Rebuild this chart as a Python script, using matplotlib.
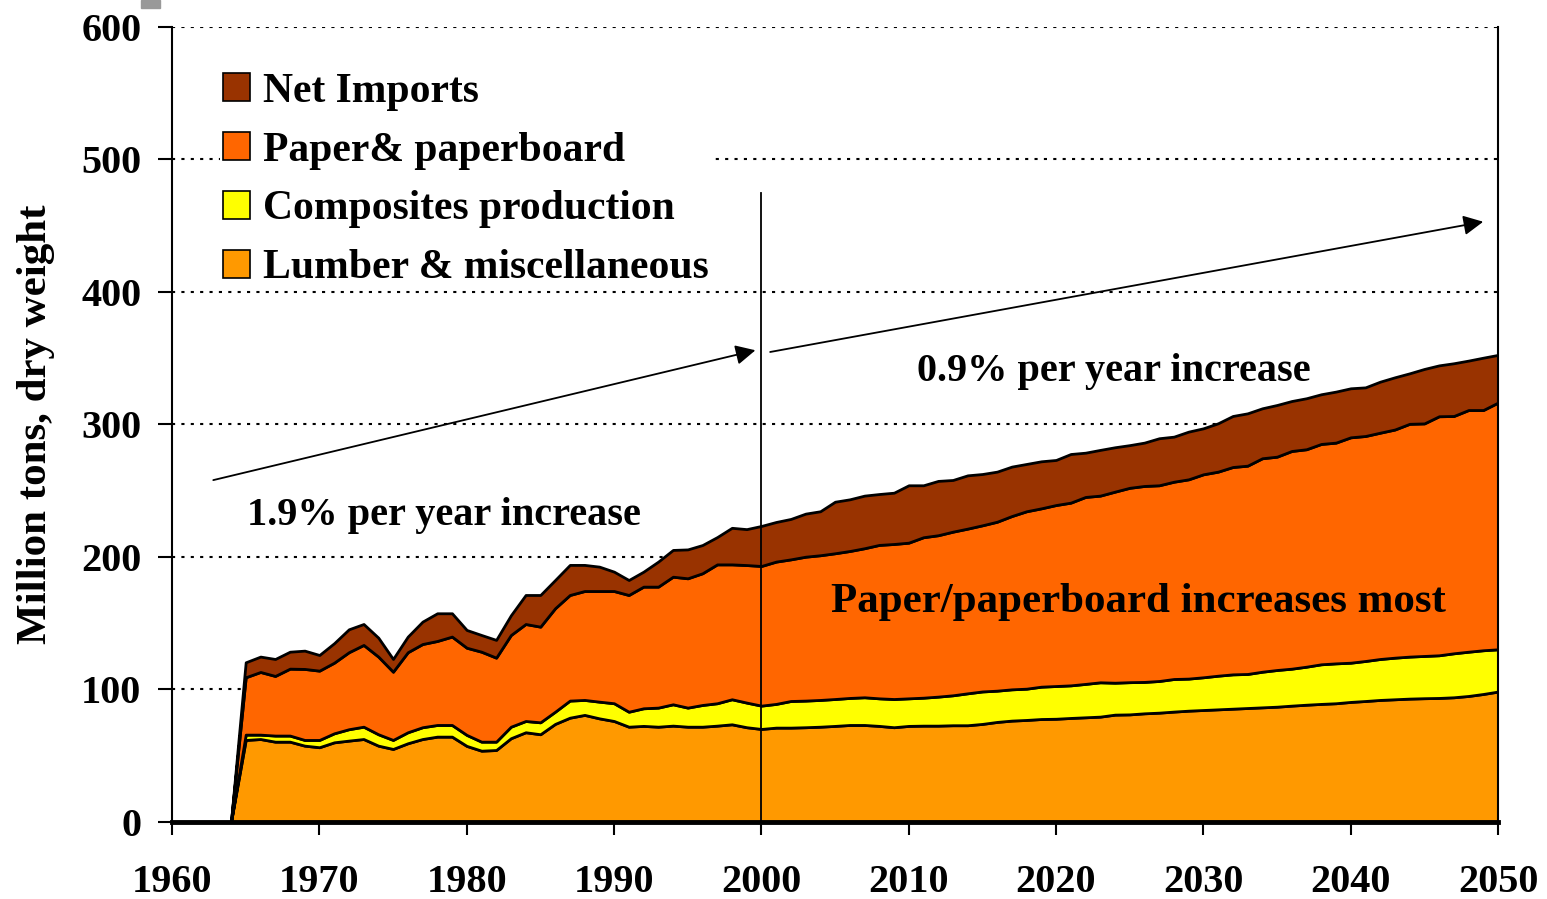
import matplotlib.pyplot as plt
from matplotlib.patches import Rectangle

# Years 1960-2050, series are zero until 1964
years = list(range(1960, 2051))

lumber = [0, 0, 0, 0, 0,
          61.9, 62.6, 60.6, 60.6, 57.6, 56.4, 60.1, 61.4, 62.6, 57.6,
          55.1, 59.4, 62.6, 64.4, 64.4, 57.4, 53.8, 54.3, 63.2, 67.7,
          66.2, 74.0, 78.7, 80.8, 78.2, 76.2, 71.9, 72.5, 71.9, 72.7,
          71.9, 71.9, 72.7, 73.7, 71.5, 70.2, 71.2, 71.2, 71.5, 71.9,
          72.5, 73.2, 73.2, 72.5, 71.5, 72.5, 72.7, 72.7, 73.0, 73.0,
          74.0, 75.5, 76.5, 77.0, 77.7, 77.9, 78.5, 79.0, 79.5, 81.0,
          81.2, 82.0, 82.5, 83.3, 84.0, 84.5, 85.0, 85.5, 86.0, 86.5,
          87.0, 87.8, 88.5, 89.1, 89.6, 90.6, 91.3, 92.1, 92.6, 93.1,
          93.4, 93.6, 94.1, 95.1, 96.6, 98.4]

composites = [0, 0, 0, 0, 0,
              4.0, 3.3, 4.6, 4.6, 4.3, 5.5, 6.8, 8.6, 9.3, 8.6,
              6.8, 8.3, 8.9, 8.8, 8.8, 8.3, 6.8, 6.3, 8.7, 8.5,
              9.0, 9.2, 12.9, 11.3, 12.6, 13.4, 11.3, 13.3, 14.4, 16.1,
              14.4, 16.4, 16.9, 18.9, 18.6, 17.6, 17.9, 20.1, 20.1, 20.2,
              20.3, 20.4, 20.9, 20.8, 21.3, 20.8, 21.1, 21.9, 22.6, 24.1,
              24.5, 23.6, 23.6, 23.6, 24.4, 24.7, 24.6, 25.2, 25.9, 24.1,
              24.3, 23.7, 23.9, 24.6, 24.2, 24.7, 25.4, 25.9, 25.7, 26.9,
              27.7, 27.9, 28.7, 29.9, 30.1, 29.6, 30.2, 30.9, 31.4, 31.7,
              31.9, 32.2, 33.2, 33.4, 33.0, 31.9]

paper = [0, 0, 0, 0, 0,
         43.3, 47.3, 45.0, 50.5, 53.6, 52.3, 53.3, 58.1, 61.7, 58.6,
         51.5, 60.4, 62.8, 63.4, 66.7, 65.8, 67.9, 63.4, 69.2, 73.2,
         72.2, 78.1, 79.7, 82.2, 83.5, 84.7, 88.1, 91.8, 91.3, 96.3,
         97.6, 99.4, 104.8, 101.8, 103.8, 105.4, 107.4, 106.9, 108.6, 109.2,
         110.0, 110.9, 112.5, 115.8, 117.0, 117.5, 121.1, 121.8, 123.5, 124.3,
         125.4, 127.5, 130.8, 133.9, 134.6, 136.6, 137.9, 141.1, 140.9, 144.2,
         146.7, 147.9, 147.7, 148.9, 150.4, 153.2, 154.0, 156.5, 157.2, 161.1,
         161.0, 164.3, 164.1, 166.3, 166.6, 170.1, 169.8, 170.8, 172.2, 175.7,
         175.5, 180.4, 179.1, 182.4, 181.3, 186.2]

imports = [0, 0, 0, 0, 0,
           11.3, 11.6, 12.8, 12.8, 13.8, 11.8, 14.7, 17.3, 15.8, 14.3,
           9.6, 11.8, 16.9, 20.9, 17.6, 13.4, 12.6, 13.4, 14.9, 21.9,
           23.9, 21.3, 22.7, 19.7, 18.4, 14.6, 11.3, 11.3, 18.9, 20.2,
           21.8, 21.3, 20.6, 27.6, 27.1, 30.2, 29.9, 30.5, 32.5, 33.2,
           38.9, 39.0, 39.7, 38.4, 38.7, 43.3, 39.2, 41.0, 39.0, 40.2,
           38.7, 37.8, 37.3, 35.7, 35.5, 34.0, 36.7, 33.4, 34.5, 33.5,
           32.2, 32.7, 35.5, 34.0, 36.0, 34.7, 36.5, 38.5, 39.5, 37.7,
           39.0, 37.7, 38.5, 37.5, 38.5, 37.0, 36.7, 38.5, 39.4, 38.1,
           41.1, 38.4, 39.8, 37.3, 39.5, 36.0]

labels = ['Lumber & miscellaneous', 'Composites production',
          'Paper& paperboard', 'Net Imports']
colors = ['#FF9900', '#FFFF00', '#FF6600', '#993300']

plt.rcParams['font.family'] = 'Liberation Serif'
plt.rcParams['font.weight'] = 'bold'
plt.rcParams['axes.labelweight'] = 'bold'

fig = plt.figure(figsize=(15.47, 8.99), dpi=100)
ax = fig.add_axes([0.1112, 0.0857, 0.8571, 0.8843])

ax.stackplot(years, lumber, composites, paper, imports,
             colors=colors, labels=labels,
             edgecolor='black', linewidth=2, zorder=2)

ax.set_xlim(1960, 2050)
ax.set_ylim(0, 600)
ax.set_xticks(range(1960, 2051, 10))
ax.set_yticks(range(0, 601, 100))
ax.tick_params(axis='both', labelsize=29, direction='out', width=1.5)
ax.tick_params(axis='x', length=9, pad=21)
ax.tick_params(axis='y', length=10, pad=12)

# dotted horizontal grid
ax.yaxis.grid(True, linestyle=(0, (1.5, 3)), color='black', linewidth=1.5, zorder=1)
ax.set_axisbelow(True)
ax.spines['top'].set_visible(False)
ax.spines['bottom'].set_linewidth(3.5)
ax.spines['left'].set_linewidth(1.5)
ax.spines['right'].set_linewidth(1.5)

ax.set_ylabel('Million tons, dry weight', fontsize=31, labelpad=19)

# vertical divider at 2000
ax.plot([2000, 2000], [0, 475], color='black', linewidth=1.3, zorder=3)

# growth arrows
ax.annotate('', xy=(1999.6, 356), xytext=(1962.8, 258),
            arrowprops=dict(arrowstyle='-|>', color='black', lw=1.3,
                            mutation_scale=30, shrinkA=0, shrinkB=0))
ax.annotate('', xy=(2049.0, 453), xytext=(2000.6, 354.7),
            arrowprops=dict(arrowstyle='-|>', color='black', lw=1.3,
                            mutation_scale=30, shrinkA=0, shrinkB=0))

ax.text(1965.1, 231, '1.9% per year increase', fontsize=29, va='center')
ax.text(2010.6, 340, '0.9% per year increase', fontsize=29, va='center')
ax.text(2004.7, 166, 'Paper/paperboard increases most', fontsize=31, va='center',
        zorder=4)

handles, labs = ax.get_legend_handles_labels()
leg = ax.legend(handles[::-1], labs[::-1], loc='upper left',
                bbox_to_anchor=(0.0365, 0.945), fontsize=30, frameon=True,
                facecolor='white', edgecolor='none', framealpha=1,
                handlelength=0.65, handleheight=0.65, handletextpad=0.31,
                labelspacing=0.5, borderaxespad=0, borderpad=0.05)
for h in leg.legend_handles:
    h.set_linewidth(1.2)

# small grey mark at top-left of the frame
fig.patches.append(Rectangle((141 / 1547, 1 - 8 / 899), 19 / 1547, 8 / 899,
                             transform=fig.transFigure, color='#999999'))

fig.savefig('out.png', dpi=100)
